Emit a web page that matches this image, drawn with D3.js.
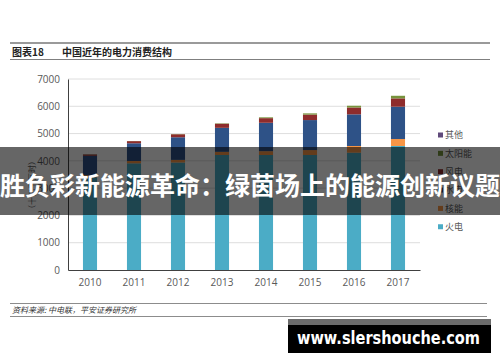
<!DOCTYPE html>
<html>
<head>
<meta charset="utf-8">
<script src="https://cdn.jsdelivr.net/npm/d3@7"></script>
<style>
  body { margin: 0; background: #fff; }
  svg { display: block; font-family: "Noto Sans CJK SC", "Noto Sans", sans-serif; }
</style>
</head>
<body>
<div id="chart"></div>
<script>
// data
const years = ['2010', '2011', '2012', '2013', '2014', '2015', '2016', '2017'];
const thermal = [3400, 3910, 3940, 4215, 4215, 4215, 4300, 4545];
const nuclear = [75, 85, 95, 115, 140, 180, 245, 255];
const hydro = [710, 650, 830, 880, 1040, 1100, 1160, 1185];
const wind = [50, 78, 110, 150, 170, 200, 250, 305];
const solar = [5, 4, 8, 15, 30, 45, 65, 95];
const other = [0, 0, 0, 0, 0, 0, 0, 0];
const yTicks = [0, 1000, 2000, 3000, 4000, 5000, 6000, 7000];

// stacking order bottom -> top
const seriesNames = ['火电', '核能', '水电', '风电', '太阳能', '其他'];
const seriesValues = [thermal, nuclear, hydro, wind, solar, other];
const colors = ['#4bacc6', '#f79646', '#2e5287', '#8e2c2c', '#77933c', '#604a7b'];

const width = 500, height = 362;
const svg = d3.select('#chart').append('svg')
  .attr('width', width)
  .attr('height', height);

// header
svg.append('line').attr('x1', 10).attr('x2', 490).attr('y1', 43).attr('y2', 43)
  .attr('stroke', '#9a9a9a').attr('stroke-width', 2);
svg.append('line').attr('x1', 10).attr('x2', 490).attr('y1', 59.5).attr('y2', 59.5)
  .attr('stroke', '#7f7f7f').attr('stroke-width', 1);
svg.append('text').attr('x', 12).attr('y', 56)
  .attr('font-size', 10).attr('font-weight', 'bold').attr('fill', '#222')
  .text('图表18');
svg.append('text').attr('x', 62).attr('y', 56)
  .attr('font-size', 10).attr('font-weight', 'bold').attr('fill', '#222')
  .text('中国近年的电力消费结构');

// scales
const x = d3.scaleBand().domain(years).range([68, 420])
  .paddingInner(0.68).paddingOuter(0.34);
const y = d3.scaleLinear().domain([0, 7000]).range([270, 79]);

// gridlines
svg.append('g').selectAll('line').data(yTicks.slice(1)).join('line')
  .attr('x1', 68).attr('x2', 420)
  .attr('y1', d => y(d)).attr('y2', d => y(d))
  .attr('stroke', '#dedede').attr('stroke-width', 1);

// stacked bars
const table = years.map((yr, i) => {
  const row = { year: yr };
  seriesNames.forEach((n, k) => { row[n] = seriesValues[k][i]; });
  return row;
});
const stacked = d3.stack().keys(seriesNames)(table);

svg.append('g').selectAll('g').data(stacked).join('g')
  .attr('fill', (d, i) => colors[i])
  .selectAll('rect').data(d => d).join('rect')
  .attr('x', d => x(d.data.year))
  .attr('width', x.bandwidth())
  .attr('y', d => y(d[1]))
  .attr('height', d => Math.max(0, y(d[0]) - y(d[1])));

// axes
const yAxis = svg.append('g').attr('transform', 'translate(68,0)')
  .call(d3.axisLeft(y).tickValues(yTicks).tickFormat(d3.format('d')).tickSize(0).tickPadding(8));
yAxis.select('.domain').attr('stroke', '#404040');
yAxis.selectAll('text').attr('font-size', 10).attr('fill', '#595959')
  .attr('font-family', '"Open Sans", "Noto Sans", sans-serif');

const xAxis = svg.append('g').attr('transform', 'translate(0,270)')
  .call(d3.axisBottom(x).tickSize(0).tickPadding(9));
xAxis.select('.domain').attr('stroke', '#404040').attr('stroke-width', 1.2);
xAxis.selectAll('text').attr('font-size', 10).attr('fill', '#595959')
  .attr('font-family', '"Open Sans", "Noto Sans", sans-serif');

// y axis title
svg.append('text')
  .attr('transform', 'translate(35,157) rotate(-90)')
  .attr('text-anchor', 'end')
  .attr('font-size', 8).attr('fill', '#595959')
  .text('（十亿千瓦时）');

// legend (top item first)
const legendItems = seriesNames.map((n, i) => ({ name: n, color: colors[i] })).reverse();
const legend = svg.append('g').selectAll('g').data(legendItems).join('g')
  .attr('transform', (d, i) => `translate(438,${135 + i * 18.35})`);
legend.append('rect').attr('x', 0).attr('y', -2.5).attr('width', 5).attr('height', 5)
  .attr('fill', d => d.color);
legend.append('text').attr('x', 7).attr('y', 3.3)
  .attr('font-size', 9).attr('fill', '#595959')
  .text(d => d.name);

// footer
svg.append('line').attr('x1', 10).attr('x2', 487).attr('y1', 303.5).attr('y2', 303.5)
  .attr('stroke', '#8c8c8c').attr('stroke-width', 1);
svg.append('line').attr('x1', 10).attr('x2', 487).attr('y1', 316.5).attr('y2', 316.5)
  .attr('stroke', '#8c8c8c').attr('stroke-width', 1);
svg.append('text').attr('x', 12).attr('y', 313)
  .attr('font-size', 8).attr('font-style', 'italic').attr('fill', '#333')
  .text('资料来源: 中电联，平安证券研究所');

// overlay banner
svg.append('rect').attr('x', 0).attr('y', 147).attr('width', width).attr('height', 68)
  .attr('fill', 'rgba(0,0,0,0.6)');
svg.append('text').attr('x', 250).attr('y', 194.5)
  .attr('text-anchor', 'middle')
  .attr('font-size', 25).attr('font-weight', 'bold').attr('fill', '#fff')
  .text('胜负彩新能源革命：绿茵场上的能源创新议题');

// watermark
svg.append('rect').attr('x', 288).attr('y', 319).attr('width', 203).attr('height', 6)
  .attr('fill', '#6b6b6b');
svg.append('rect').attr('x', 288).attr('y', 325).attr('width', 203).attr('height', 28)
  .attr('fill', '#000');
svg.append('text').attr('x', 297).attr('y', 344)
  .attr('font-family', '"DejaVu Sans", sans-serif')
  .attr('font-size', 17).attr('font-weight', 'bold').attr('fill', '#fff')
  .attr('textLength', 183).attr('lengthAdjust', 'spacingAndGlyphs')
  .text('www.slershouche.com');
</script>
</body>
</html>
